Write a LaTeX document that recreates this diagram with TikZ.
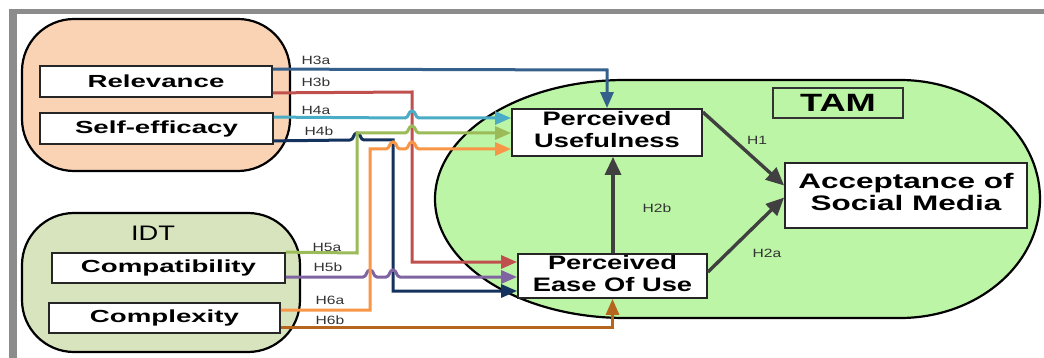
\documentclass[tikz,border=0pt]{standalone}
\usepackage{fontspec}
\setmainfont{Liberation Sans}
\usetikzlibrary{arrows.meta,calc}
\definecolor{peach}{HTML}{FAD2B4}
\definecolor{idtgreen}{HTML}{D8E4BE}
\definecolor{tamgreen}{HTML}{BDF5A6}
\definecolor{framegray}{HTML}{8C8C8C}
\definecolor{cHa}{HTML}{36608C}
\definecolor{cHb}{HTML}{C0504D}
\definecolor{cHc}{HTML}{4BACC6}
\definecolor{cHd}{HTML}{14325E}
\definecolor{cHe}{HTML}{9BBB59}
\definecolor{cHf}{HTML}{8064A2}
\definecolor{cHg}{HTML}{F79646}
\definecolor{cHh}{HTML}{B5651D}
\definecolor{tamarrow}{HTML}{404040}
\newcommand\xst[2]{\scalebox{#1}[1]{#2}}
\tikzset{
  blob/.style={draw=black, line width=2.2pt, rounded corners=52pt, inner sep=0pt},
  cbox/.style={draw=black!85, line width=1.8pt, fill=white, inner sep=0pt,
    font=\fontsize{17.5}{19}\selectfont\bfseries},
  cboxb/.style={draw=black!85, line width=1.8pt, fill=white, inner sep=0pt,
    font=\fontsize{19.5}{22}\selectfont\bfseries},
  hlab/.style={font=\fontsize{12}{13}\selectfont, text=black!80, inner sep=0pt},
  conn/.style={line width=3pt, -{Triangle[length=16pt,width=13pt]}},
  tamarr/.style={draw=tamarrow, line width=3.4pt, -{Triangle[length=18pt,width=16pt]}}
}
\begin{document}
\begin{tikzpicture}[x=1pt,y=-1pt]
\useasboundingbox (0,0) rectangle (1044,358);
\fill[white] (0,0) rectangle (1044,358);
\fill[framegray] (9,9) rectangle (1044,14);
\fill[framegray] (9,9) rectangle (17,358);

% groups
\node[blob, fill=peach, minimum width=268pt, minimum height=152pt] (grpa) at (156,95) {};
\node[blob, fill=idtgreen, minimum width=278pt, minimum height=139pt] (grpb) at (161,282.5) {};
\node[font=\fontsize{21}{23}\selectfont, inner sep=0pt] (idt) at (153,233) {\xst{1.3}{IDT}};

% TAM region
\draw[fill=tamgreen, line width=2.2pt] (625,80) -- (900,80)
  .. controls (977.3,80) and (1040,133.3) .. (1040,199)
  .. controls (1040,264.7) and (977.3,318) .. (900,318) -- (625,318)
  .. controls (520.1,318) and (435,264.7) .. (435,199)
  .. controls (435,133.3) and (520.1,80) .. (625,80) -- cycle;
\node[draw=black!80, line width=1.2pt, fill=tamgreen, minimum width=130pt, minimum height=30pt,
  inner sep=0pt, font=\fontsize{25}{27}\selectfont\bfseries] (tam) at (838,103) {\xst{1.45}{TAM}};

% boxes
\node[cbox, minimum width=232pt, minimum height=31pt] (rel) at (156,81.5) {\xst{1.58}{Relevance}};
\node[cbox, minimum width=233pt, minimum height=31pt] (se) at (156.5,128.5) {\xst{1.58}{Self-efficacy}};
\node[cbox, minimum width=233pt, minimum height=30pt] (cmp) at (168.5,268) {\xst{1.58}{Compatibility}};
\node[cbox, minimum width=231pt, minimum height=30pt] (cx) at (164.5,318) {\xst{1.58}{Complexity}};
\node[cboxb, minimum width=190pt, minimum height=47pt] (pu) at (607,132.5)
  {\xst{1.4}{\begin{tabular}{@{}c@{}}Perceived\\Usefulness\end{tabular}}};
\node[cboxb, minimum width=189pt, minimum height=44pt] (peou) at (612.5,276)
  {\xst{1.4}{\begin{tabular}{@{}c@{}}Perceived\\Ease Of Use\end{tabular}}};
\node[cboxb, font=\fontsize{21}{22}\selectfont\bfseries, minimum width=242pt, minimum height=65pt] (acc) at (906,195.5)
  {\xst{1.5}{\begin{tabular}{@{}c@{}}Acceptance of\\Social Media\end{tabular}}};

% connectors
\draw[conn, cHa] ([yshift=-4pt]rel.north east) -- (607,70) -- (pu.north);
\draw[conn, cHb] ([yshift=5pt]rel.south east) -- (412,92) -- (412,262) -- ([yshift=14pt]peou.west);
\draw[conn, cHc] ([yshift=-5pt]se.north east) -- (405,118)
  .. controls (409,118) and (408,111) .. (412,111)
  .. controls (416,111) and (415,118) .. (419,118) -- ([yshift=14.5pt]pu.west);
\draw[conn, cHd] ([yshift=4pt]se.south east) -- (350,140)
  .. controls (354,140) and (353,133) .. (357,133)
  .. controls (361,133) and (360,140) .. (364,140) -- (393,140) -- (393,291) -- ([yshift=-15pt]peou.west);
\draw[conn, cHe] (cmp.north east) -- (357,253) -- (357,133) -- (405,133)
  .. controls (409,133) and (408,126) .. (412,126)
  .. controls (416,126) and (415,133) .. (419,133) -- ([yshift=-0.5pt]pu.west);
\draw[conn, cHf] ([yshift=-9pt]cmp.east) -- (363,277)
  .. controls (367,277) and (366,270) .. (370,270)
  .. controls (374,270) and (373,277) .. (377,277) -- (386,277)
  .. controls (390,277) and (389,270) .. (393,270)
  .. controls (397,270) and (396,277) .. (400,277) -- ([yshift=-1pt]peou.west);
\draw[conn, cHg] ([yshift=8pt]cx.east) -- (370,310) -- (370,149) -- (386,149)
  .. controls (390,149) and (389,142) .. (393,142)
  .. controls (397,142) and (396,149) .. (400,149) -- (405,149)
  .. controls (409,149) and (408,142) .. (412,142)
  .. controls (416,142) and (415,149) .. (419,149) -- ([yshift=-16.5pt]pu.west);
\draw[conn, cHh] ([yshift=-9pt]cx.east) -- (612.5,327) -- (peou.south);

% TAM arrows
\draw[tamarr] ([xshift=0.5pt]peou.north) -- ([xshift=6pt]pu.south);
\draw[tamarr] ([yshift=-4pt]pu.north east) -- ([yshift=10pt]acc.west);
\draw[tamarr] ([yshift=4pt]peou.east) -- ([yshift=-2pt]acc.west);

% labels
\node[hlab] (lHa) at (316,60) {\xst{1.3}{H3a}};
\node[hlab] (lHb) at (316,82) {\xst{1.3}{H3b}};
\node[hlab] (lHc) at (316,110) {\xst{1.3}{H4a}};
\node[hlab] (lHd) at (319,131) {\xst{1.3}{H4b}};
\node[hlab] (lHe) at (327,247) {\xst{1.3}{H5a}};
\node[hlab] (lHf) at (328,267) {\xst{1.3}{H5b}};
\node[hlab] (lHg) at (330,300) {\xst{1.3}{H6a}};
\node[hlab] (lHh) at (330,320) {\xst{1.3}{H6b}};
\node[hlab] (lone) at (757,140) {\xst{1.3}{H1}};
\node[hlab] (ltwob) at (657,208) {\xst{1.3}{H2b}};
\node[hlab] (ltwoa) at (767,253) {\xst{1.3}{H2a}};
\end{tikzpicture}
\end{document}
